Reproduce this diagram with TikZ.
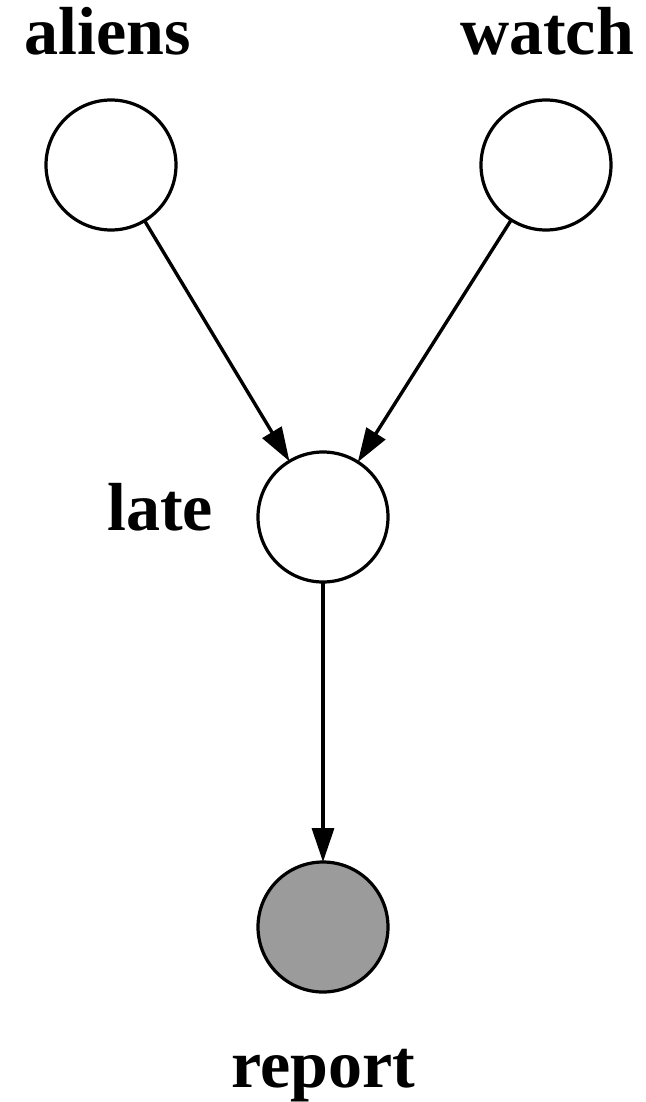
\documentclass[tikz,border=0pt]{standalone}
\usepackage{fontspec}
\setmainfont{Liberation Serif}
\usetikzlibrary{arrows.meta}
\definecolor{obsfill}{RGB}{155,155,155}
\begin{document}
\begin{tikzpicture}[x=0.5pt,y=-0.5pt,
  var/.style={circle,draw,line width=1.6pt,minimum size=65pt,inner sep=0pt,outer sep=0pt,fill=white},
  obs/.style={var,fill=obsfill},
  lbl/.style={font=\fontsize{34}{40}\selectfont\bfseries,anchor=base,inner sep=0pt},
  edge/.style={line width=1.7pt,-{Triangle[length=17pt,width=11pt]}}]
\useasboundingbox (0,0) rectangle (645,1102);
\node[var] (aliens) at (111,165) {};
\node[var] (watch) at (546,165) {};
\node[var] (late) at (323,517) {};
\node[obs] (report) at (323,927) {};
\node[lbl] (laliens) at (108,55) {aliens};
\node[lbl] (lwatch) at (547,55) {watch};
\node[lbl] (llate) at (160,530) {late};
\node[lbl] (lreport) at (323,1087) {report};
\draw[edge] (aliens) -- (late);
\draw[edge] (watch) -- (late);
\draw[edge] (late) -- (report);
\end{tikzpicture}
\end{document}
